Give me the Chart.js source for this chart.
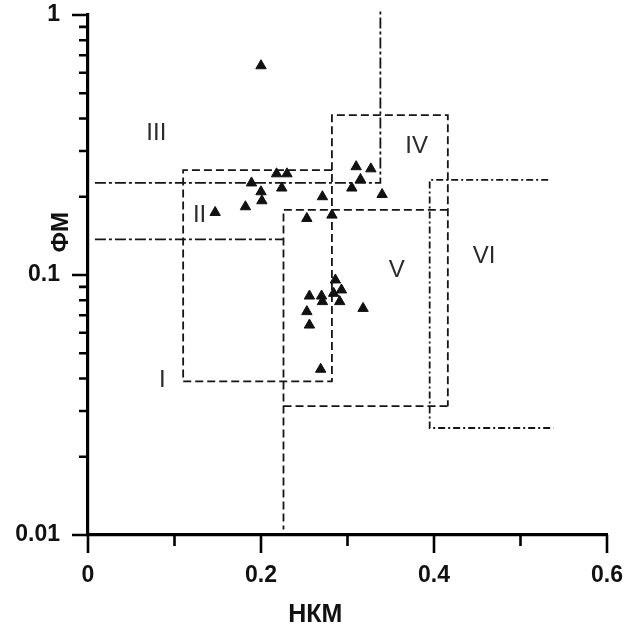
<!DOCTYPE html>
<html><head><meta charset="utf-8">
<script src="https://cdn.jsdelivr.net/npm/chart.js@4.4.1/dist/chart.umd.min.js"></script>
<style>html,body{margin:0;padding:0;background:#fff}#wrap{width:634px;height:630px}</style>
</head><body><div id="wrap"><canvas id="c" width="634" height="630"></canvas></div>
<script>
// ---- Data ----
const xTitle = 'НКМ';
const yTitle = 'ФМ';

const pointsX = [0.200, 0.189, 0.200, 0.201, 0.182, 0.147, 0.218, 0.230, 0.224, 0.253, 0.271, 0.282,
                 0.310, 0.327, 0.315, 0.305, 0.340,
                 0.286, 0.293, 0.256, 0.270, 0.271, 0.291, 0.284, 0.253, 0.256, 0.318, 0.269];
const pointsY = [0.638, 0.226, 0.209, 0.193, 0.183, 0.174, 0.245, 0.245, 0.216, 0.165, 0.200, 0.170,
                 0.261, 0.256, 0.233, 0.216, 0.204,
                 0.0957, 0.0876, 0.083, 0.083, 0.079, 0.079, 0.085, 0.0723, 0.0642, 0.0744, 0.0434];

const xTickValues = [0, 0.1, 0.2, 0.3, 0.4, 0.5, 0.6];
const xTickLabels = ['0', '', '0.2', '', '0.4', '', '0.6'];
const yTickValues = [0.01, 0.02, 0.03, 0.04, 0.05, 0.06, 0.07, 0.08, 0.09,
                     0.1, 0.2, 0.3, 0.4, 0.5, 0.6, 0.7, 0.8, 0.9, 1];
const yTickLabels = ['0.01', '', '', '', '', '', '', '', '',
                     '0.1', '', '', '', '', '', '', '', '', '1'];

// region boundaries
const boundIII_x = [0.008, 0.338, 0.338];
const boundIII_y = [0.226, 0.226, 1.04];
const boundI_x = [0.008, 0.226];
const boundI_y = [0.137, 0.137];
const boxII_x = [0.282, 0.110, 0.110, 0.282, 0.282];
const boxII_y = [0.253, 0.253, 0.039, 0.039, 0.253];
const boxIV_x = [0.282, 0.282, 0.416, 0.416];
const boxIV_y = [0.253, 0.412, 0.412, 0.0313];
const boxVtop_x = [0.416, 0.226, 0.226];
const boxVtop_y = [0.178, 0.178, 0.0105];
const boxVbottom_x = [0.226, 0.416];
const boxVbottom_y = [0.0313, 0.0313];
const boundVI_x = [0.532, 0.395, 0.395, 0.538];
const boundVI_y = [0.232, 0.232, 0.0258, 0.0258];

const regionNames = ['I', 'II', 'III', 'IV', 'V', 'VI'];
const regionX = [0.086, 0.129, 0.079, 0.380, 0.357, 0.458];
const regionY = [0.0395, 0.170, 0.351, 0.312, 0.1045, 0.1177];

// ---- Build ----
const zip = (xs, ys) => xs.map((x, i) => ({x: x, y: ys[i]}));
function lineDs(xs, ys, dash) {
  return {
    type: 'scatter', data: zip(xs, ys), showLine: true, pointRadius: 0,
    borderColor: '#151515', borderWidth: 1.8, borderDash: dash, fill: false,
    clip: false, tension: 0
  };
}
const DASH = [8, 4];
const DASHDOT = [11, 3, 3, 3];

const tickMarks = {
  id: 'tickMarks',
  afterDraw(chart) {
    const ctx = chart.ctx, xs = chart.scales.x, ys = chart.scales.y;
    ctx.save();
    ctx.strokeStyle = '#000';
    ctx.lineWidth = 2.6;
    ctx.beginPath();
    xs.ticks.forEach((t, i) => {
      const px = xs.getPixelForValue(t.value);
      const len = xTickLabels[i] ? 18 : 11;
      ctx.moveTo(px, ys.bottom); ctx.lineTo(px, ys.bottom + len);
    });
    ys.ticks.forEach((t, i) => {
      const py = ys.getPixelForValue(t.value);
      const len = yTickLabels[i] ? 16 : 9;
      ctx.moveTo(xs.left, py); ctx.lineTo(xs.left - len, py);
    });
    ctx.stroke();
    ctx.restore();
  }
};

const textLayer = {
  id: 'textLayer',
  afterDraw(chart) {
    const ctx = chart.ctx, xs = chart.scales.x, ys = chart.scales.y, a = chart.chartArea;
    ctx.save();
    ctx.fillStyle = '#2a2a2a';
    ctx.font = '24px "Liberation Sans", Arial, sans-serif';
    ctx.textAlign = 'center';
    ctx.textBaseline = 'middle';
    regionNames.forEach((n, i) => {
      ctx.fillText(n, xs.getPixelForValue(regionX[i]), ys.getPixelForValue(regionY[i]));
    });
    ctx.fillStyle = '#111';
    ctx.font = 'bold 25px "Liberation Sans", Arial, sans-serif';
    ctx.fillText(xTitle, a.left + (a.right - a.left) * 0.438, a.bottom + 80);
    ctx.translate(a.left - 27, a.top + (a.bottom - a.top) * 0.418);
    ctx.rotate(-Math.PI / 2);
    ctx.font = 'bold 24px "Liberation Sans", Arial, sans-serif';
    ctx.fillText(yTitle, 0, 0);
    ctx.restore();
  }
};

const tickFont = {family: '"Liberation Sans", Arial, sans-serif', size: 23, weight: 'bold'};
const noPad = s => { s.paddingTop = 0; s.paddingBottom = 0; s.paddingLeft = 0; s.paddingRight = 0; };

new Chart(document.getElementById('c'), {
  type: 'scatter',
  data: {
    datasets: [
      {
        data: zip(pointsX, pointsY), pointStyle: 'triangle', pointRadius: 6,
        backgroundColor: '#111', borderColor: '#111', borderWidth: 1, showLine: false
      },
      lineDs(boundIII_x, boundIII_y, DASHDOT),
      lineDs(boundI_x, boundI_y, DASHDOT),
      lineDs(boxII_x, boxII_y, DASH),
      lineDs(boxIV_x, boxIV_y, DASH),
      lineDs(boxVtop_x, boxVtop_y, DASH),
      lineDs(boxVbottom_x, boxVbottom_y, DASH),
      lineDs(boundVI_x, boundVI_y, [7, 3, 2, 3])
    ]
  },
  options: {
    responsive: false, animation: false, devicePixelRatio: 1,
    layout: {padding: {top: 15, right: 27, left: 0, bottom: 0}},
    plugins: {legend: {display: false}, tooltip: {enabled: false}},
    scales: {
      x: {
        type: 'linear', min: 0, max: 0.6,
        afterBuildTicks: s => { s.ticks = xTickValues.map(v => ({value: v})); },
        afterFit: s => { s.height = 95; noPad(s); },
        grid: {display: false, drawTicks: false},
        border: {display: true, color: '#000', width: 3.2},
        ticks: {autoSkip: false, maxRotation: 0, padding: 27, color: '#111', font: tickFont,
                callback: (v, i) => xTickLabels[i]}
      },
      y: {
        type: 'logarithmic', min: 0.01, max: 1,
        afterBuildTicks: s => { s.ticks = yTickValues.map(v => ({value: v})); },
        afterFit: s => { s.width = 88; noPad(s); },
        grid: {display: false, drawTicks: false},
        border: {display: true, color: '#000', width: 3.2},
        ticks: {autoSkip: false, padding: 28, color: '#111', font: tickFont,
                callback: (v, i) => yTickLabels[i]}
      }
    }
  },
  plugins: [tickMarks, textLayer]
});
</script></body></html>
